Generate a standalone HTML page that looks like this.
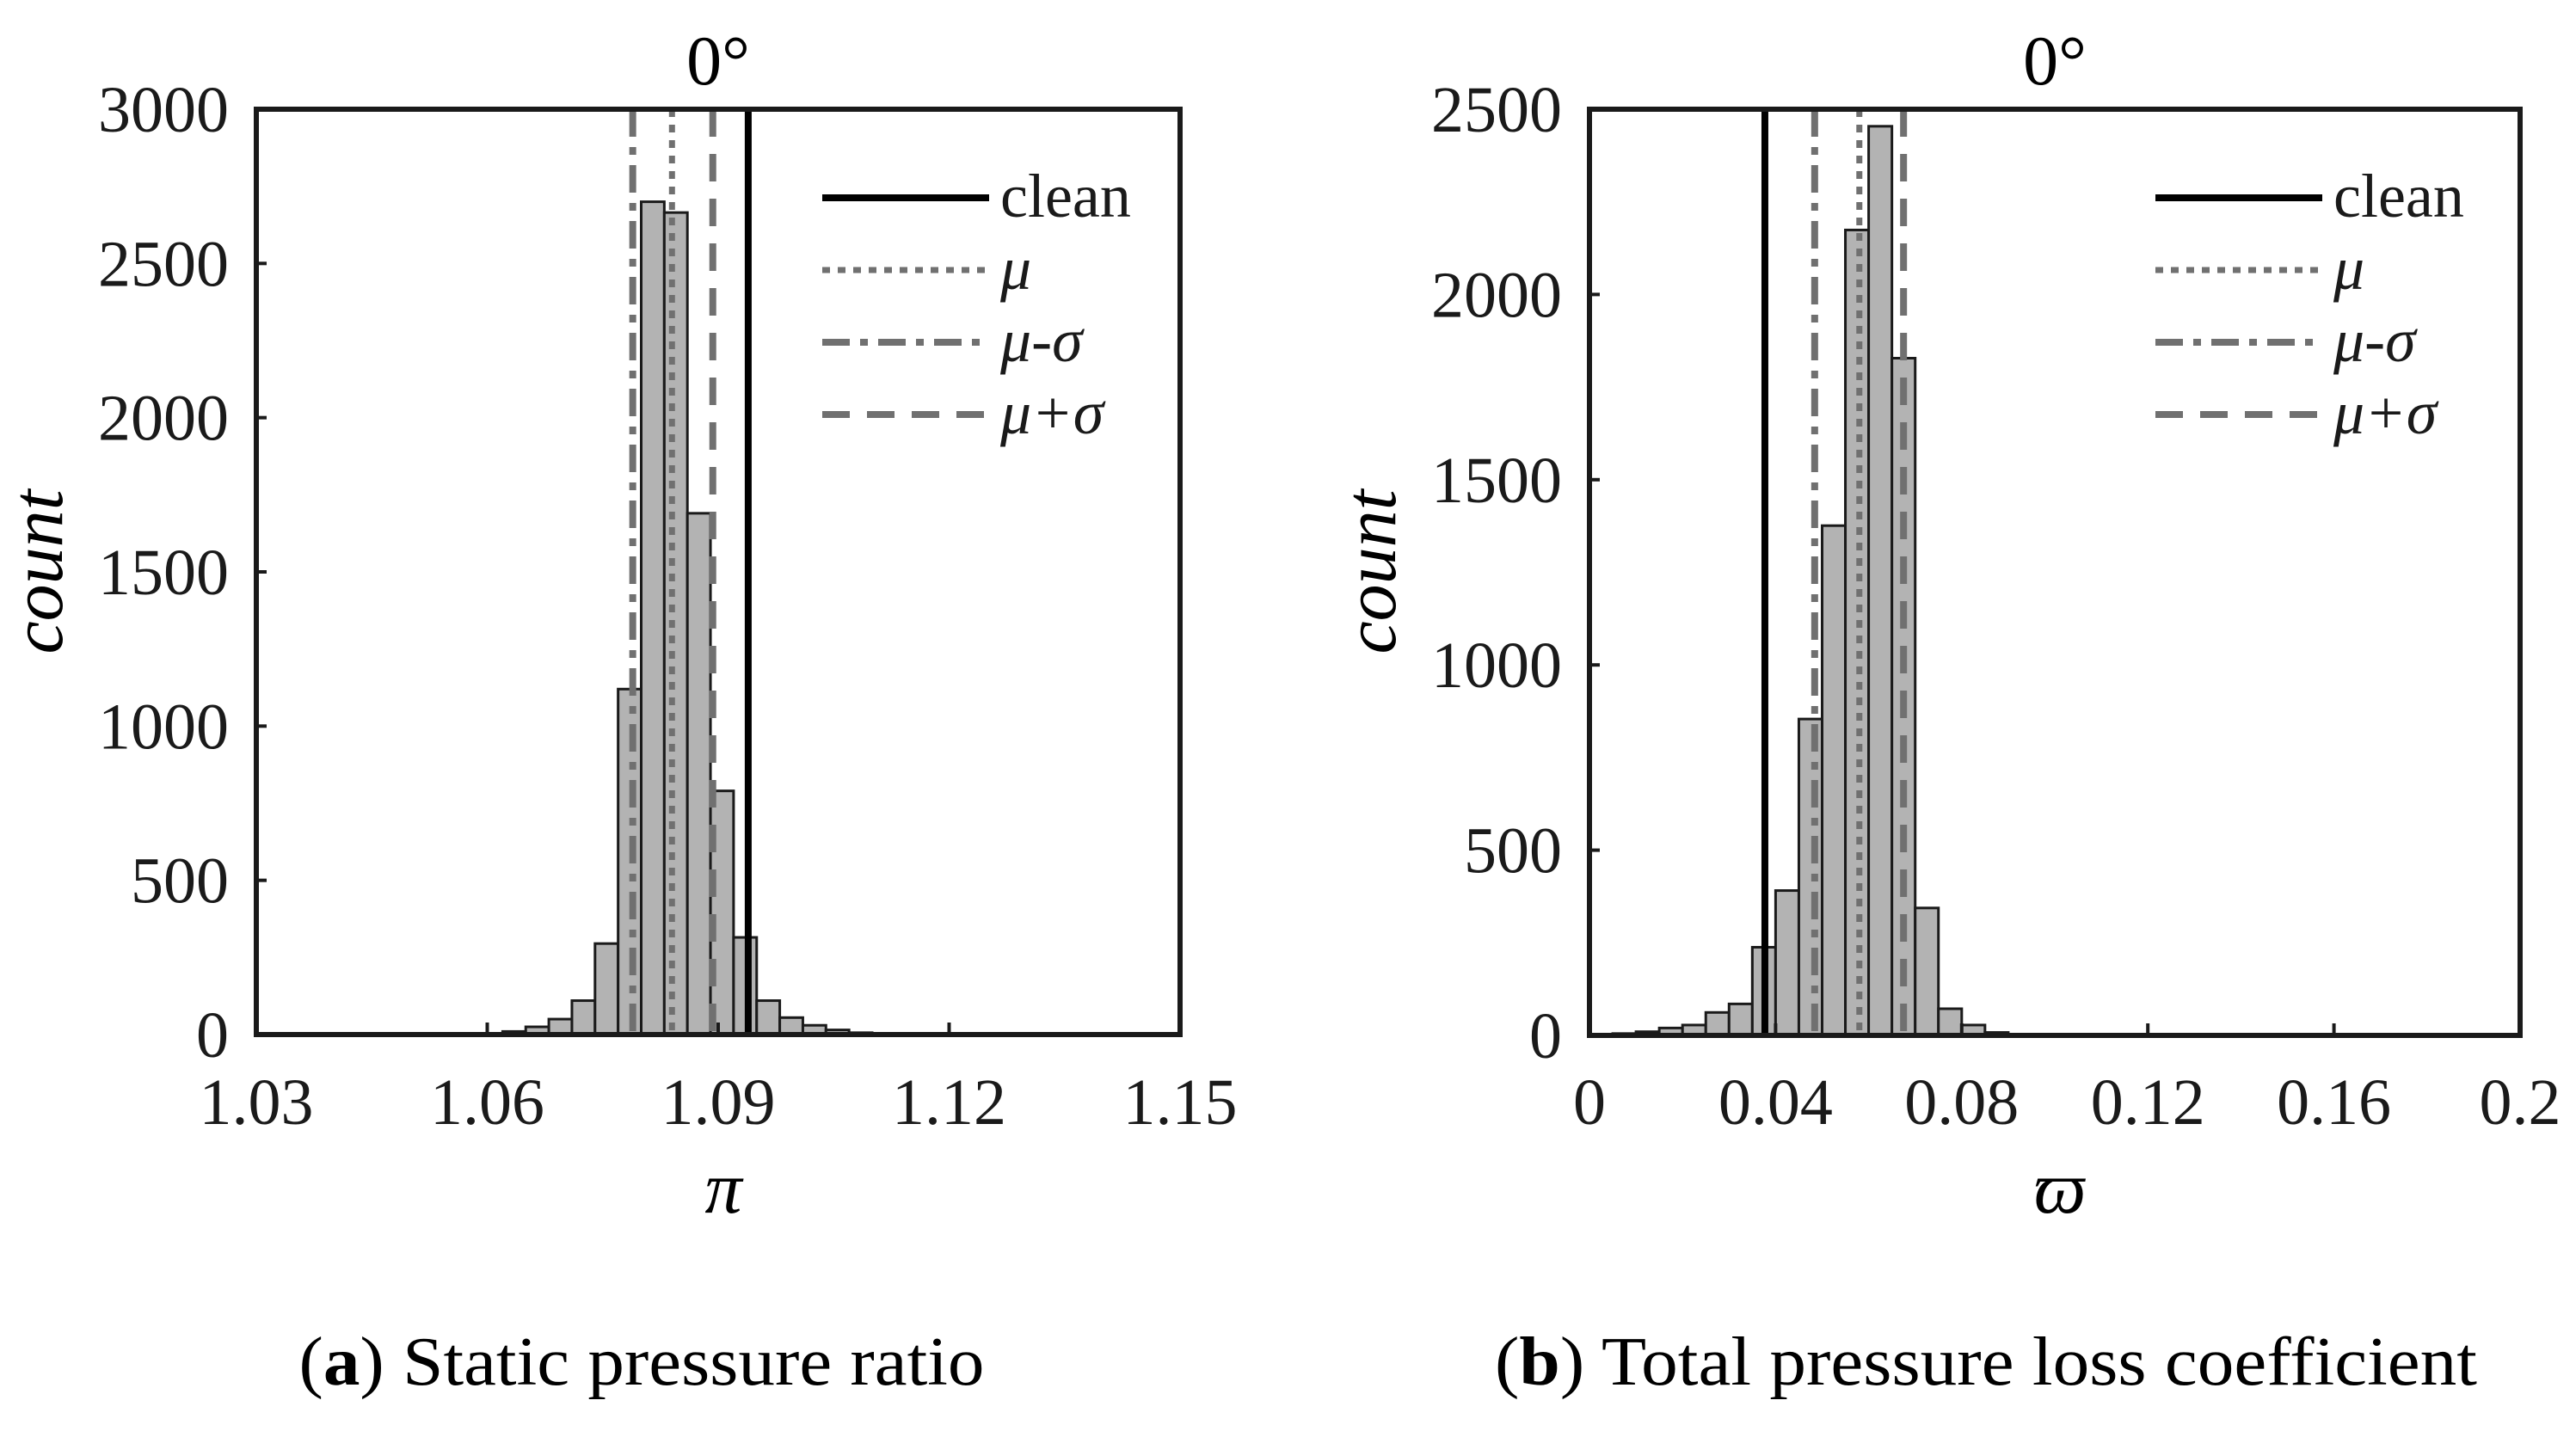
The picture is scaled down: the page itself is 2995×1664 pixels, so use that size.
<!DOCTYPE html>
<html><head><meta charset="utf-8"><style>
html,body{margin:0;padding:0;background:#fff;}
svg{display:block;font-family:"Liberation Serif",serif;}
</style></head><body>
<svg id="fig" width="2995" height="1664" viewBox="0 0 2995 1664" xmlns="http://www.w3.org/2000/svg">
<rect width="2995" height="1664" fill="#fff"/>
<g id="pa"></g>
<g id="pb"></g>
<text x="746" y="1610" font-size="80" text-anchor="middle" textLength="797" lengthAdjust="spacingAndGlyphs">(<tspan font-weight="bold">a</tspan>) Static pressure ratio</text>
<text x="2309" y="1610" font-size="80" text-anchor="middle" textLength="1142" lengthAdjust="spacingAndGlyphs">(<tspan font-weight="bold">b</tspan>) Total pressure loss coefficient</text>
</svg>
<script>
// Panel A data
const aBinStart = 1.0590;
const aBinWidth = 0.003;
const aCounts = [2,10,25,50,110,295,1120,2700,2665,1690,790,315,110,55,30,15,6,2];
const aXTicks = [1.03,1.06,1.09,1.12,1.15];
const aXTickLabels = ["1.03","1.06","1.09","1.12","1.15"];
const aYTicks = [0,500,1000,1500,2000,2500,3000];
const aLines = [1.0939,1.0840,1.0789,1.0893]; // clean, mu, mu-sigma, mu+sigma
// Panel B data
const bBinStart = 0.0;
const bBinWidth = 0.005;
const bCounts = [2,5,10,20,28,62,85,238,391,854,1376,2174,2454,1828,344,72,28,8,3];
const bXTicks = [0,0.04,0.08,0.12,0.16,0.2];
const bXTickLabels = ["0","0.04","0.08","0.12","0.16","0.2"];
const bYTicks = [0,500,1000,1500,2000,2500];
const bLines = [0.0377,0.0580,0.0484,0.0675];

const NS="http://www.w3.org/2000/svg";
function mk(parent,tag,attrs,text){
  const e=document.createElementNS(NS,tag);
  for(const k in attrs) e.setAttribute(k,attrs[k]);
  if(text!==undefined) e.textContent=text;
  parent.appendChild(e); return e;
}
const styles=[
  {stroke:"#000",dash:"none",name:"clean",w:8},
  {stroke:"#707070",dash:"9 9",name:"mu",w:7},
  {stroke:"#707070",dash:"32 12 9 12",name:"mu-minus-sigma",w:8},
  {stroke:"#707070",dash:"32 20",name:"mu-plus-sigma",w:8}
];
const legendLabels=["clean","μ","μ-σ","μ+σ"];

function panel(g,L,R,T,B,xmin,xmax,ymax,binStart,binW,counts,xt,xtl,yt,lines,xlabel,ox){
  const sx=v=>L+(v-xmin)/(xmax-xmin)*(R-L);
  const sy=v=>B-v/ymax*(B-T);
  counts.forEach((c,i)=>{
    if(c<=0) return;
    const x0=sx(binStart+i*binW), x1=sx(binStart+(i+1)*binW);
    const r=mk(g,"rect",{x:x0,y:sy(c),width:x1-x0,height:B-sy(c),fill:"#b3b3b3",stroke:"#1a1a1a","stroke-width":3});
    
    
  });
  lines.forEach((v,i)=>{
    const st=styles[i];
    const l=mk(g,"line",{x1:sx(v),x2:sx(v),y1:T,y2:B,stroke:st.stroke,"stroke-width":st.w,"stroke-dasharray":st.dash});
    
    
  });
  const fr=mk(g,"rect",{x:L,y:T,width:R-L,height:B-T,fill:"none",stroke:"#1a1a1a","stroke-width":6});
  
  
  xt.forEach((v,i)=>{
    mk(g,"line",{x1:sx(v),x2:sx(v),y1:B,y2:B-14,stroke:"#1a1a1a","stroke-width":4});
    const t=mk(g,"text",{x:sx(v),y:1307,"font-size":76,"text-anchor":"middle",fill:"#1a1a1a"},xtl[i]);
    
    
  });
  yt.forEach(v=>{
    mk(g,"line",{x1:L,x2:L+12,y1:sy(v),y2:sy(v),stroke:"#1a1a1a","stroke-width":4});
    const t=mk(g,"text",{x:L-32,y:sy(v)+26,"font-size":76,"text-anchor":"end",fill:"#1a1a1a"},String(v));
    
    
  });
  const lx0=956+ox, lx1=1150+ox, tx=1163+ox;
  [252,336,420,504].forEach((by,i)=>{
    const st=styles[i];
    mk(g,"line",{x1:lx0,x2:lx1,y1:by-22,y2:by-22,stroke:st.stroke,"stroke-width":st.w,"stroke-dasharray":st.dash});
    const t=mk(g,"text",{x:tx,y:by,"font-size":72,fill:"#1a1a1a","font-style":i==0?"normal":"italic"},legendLabels[i]);
    
    
  });
  const title=mk(g,"text",{x:(L+R)/2,y:98,"font-size":82,"text-anchor":"middle",fill:"#000"},"0°");
  
  
  const yl=mk(g,"text",{x:0,y:0,"font-size":86,"font-style":"italic","text-anchor":"middle",transform:`translate(${L-226},665) rotate(-90)`},"count");
  
  
  const xl=mk(g,"text",{x:(L+R)/2+6,y:1410,"font-size":86,"font-style":"italic","text-anchor":"middle"},xlabel);
  
  
}
panel(document.getElementById("pa"),298,1372,127,1203,1.03,1.15,3000,aBinStart,aBinWidth,aCounts,aXTicks,aXTickLabels,aYTicks,aLines,"π",0);
panel(document.getElementById("pb"),1848,2930,127,1204,0,0.2,2500,bBinStart,bBinWidth,bCounts,bXTicks,bXTickLabels,bYTicks,bLines,"ϖ",1550);
</script>
</body></html>
